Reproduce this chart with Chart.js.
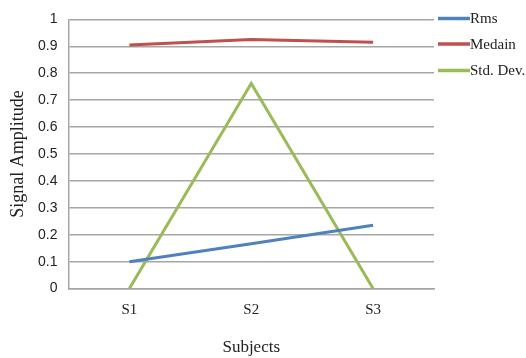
<!DOCTYPE html>
<html>
<head>
<meta charset="utf-8">
<script src="https://cdn.jsdelivr.net/npm/chart.js@4"></script>
<style>
  html, body { margin: 0; padding: 0; background: #fff; }
  #wrap { width: 526px; height: 358px; }
</style>
</head>
<body>
<div id="wrap"><canvas id="signalChart"></canvas></div>
<script>
// Data
const subjects = ['S1', 'S2', 'S3'];
const rmsValues = [0.10, 0.167, 0.235];
const medainValues = [0.905, 0.925, 0.915];
const stdDevValues = [0.0, 0.762, 0.0];
const yTicks = [0, 0.1, 0.2, 0.3, 0.4, 0.5, 0.6, 0.7, 0.8, 0.9, 1];

const serif = '"Liberation Serif", "Times New Roman", serif';
const sans = '"Liberation Sans", Arial, sans-serif';

function series(label, data, color) {
    return {
        label: label,
        data: data,
        borderColor: color,
        backgroundColor: color,
        borderWidth: 3,
        pointRadius: 0,
        tension: 0
    };
}

// Legend drawn in the right margin, Excel style
const sideLegend = {
    id: 'sideLegend',
    afterDraw: function(chart) {
        const ctx = chart.ctx;
        const x0 = chart.chartArea.right + 4;
        const rows = [18.5, 44, 70.5];
        ctx.save();
        ctx.font = '15px ' + serif;
        ctx.textBaseline = 'middle';
        chart.data.datasets.forEach(function(ds, i) {
            const y = rows[i];
            ctx.strokeStyle = ds.borderColor;
            ctx.lineWidth = 3.5;
            ctx.beginPath();
            ctx.moveTo(x0, y);
            ctx.lineTo(x0 + 32, y);
            ctx.stroke();
            ctx.fillStyle = '#222';
            ctx.fillText(ds.label, x0 + 32, y + 1);
        });
        ctx.restore();
    }
};

new Chart(document.getElementById('signalChart'), {
    type: 'line',
    data: {
        labels: subjects,
        datasets: [
            series('Rms', rmsValues, '#4f81bd'),
            series('Medain', medainValues, '#c0504d'),
            series('Std. Dev.', stdDevValues, '#9bbb59')
        ]
    },
    plugins: [sideLegend],
    options: {
        responsive: true,
        maintainAspectRatio: false,
        animation: false,
        layout: { padding: { left: 9, top: 13, right: 92, bottom: 0 } },
        plugins: {
            legend: { display: false },
            tooltip: { enabled: false }
        },
        scales: {
            x: {
                offset: true,
                grid: { display: false, drawTicks: false },
                border: { color: '#a6a6a6', width: 1.5 },
                ticks: {
                    padding: 12,
                    color: '#222',
                    font: { family: serif, size: 15 }
                },
                title: {
                    display: true,
                    text: 'Subjects',
                    color: '#222',
                    padding: { top: 7, bottom: 0 },
                    font: { family: serif, size: 17 }
                }
            },
            y: {
                min: 0,
                max: 1,
                afterBuildTicks: function(axis) {
                    axis.ticks = yTicks.map(v => ({ value: v }));
                },
                grid: { color: '#a6a6a6', lineWidth: 1.5, drawTicks: false },
                border: { color: '#a6a6a6', width: 1.5 },
                ticks: {
                    padding: 11,
                    color: '#222',
                    font: { family: sans, size: 14 },
                    callback: function(v) { return String(Math.round(v * 10) / 10); }
                },
                title: {
                    display: true,
                    text: 'Signal Amplitude',
                    color: '#222',
                    padding: { top: 0, bottom: 0 },
                    font: { family: serif, size: 18, lineHeight: 1 }
                }
            }
        }
    }
});
</script>
</body>
</html>
